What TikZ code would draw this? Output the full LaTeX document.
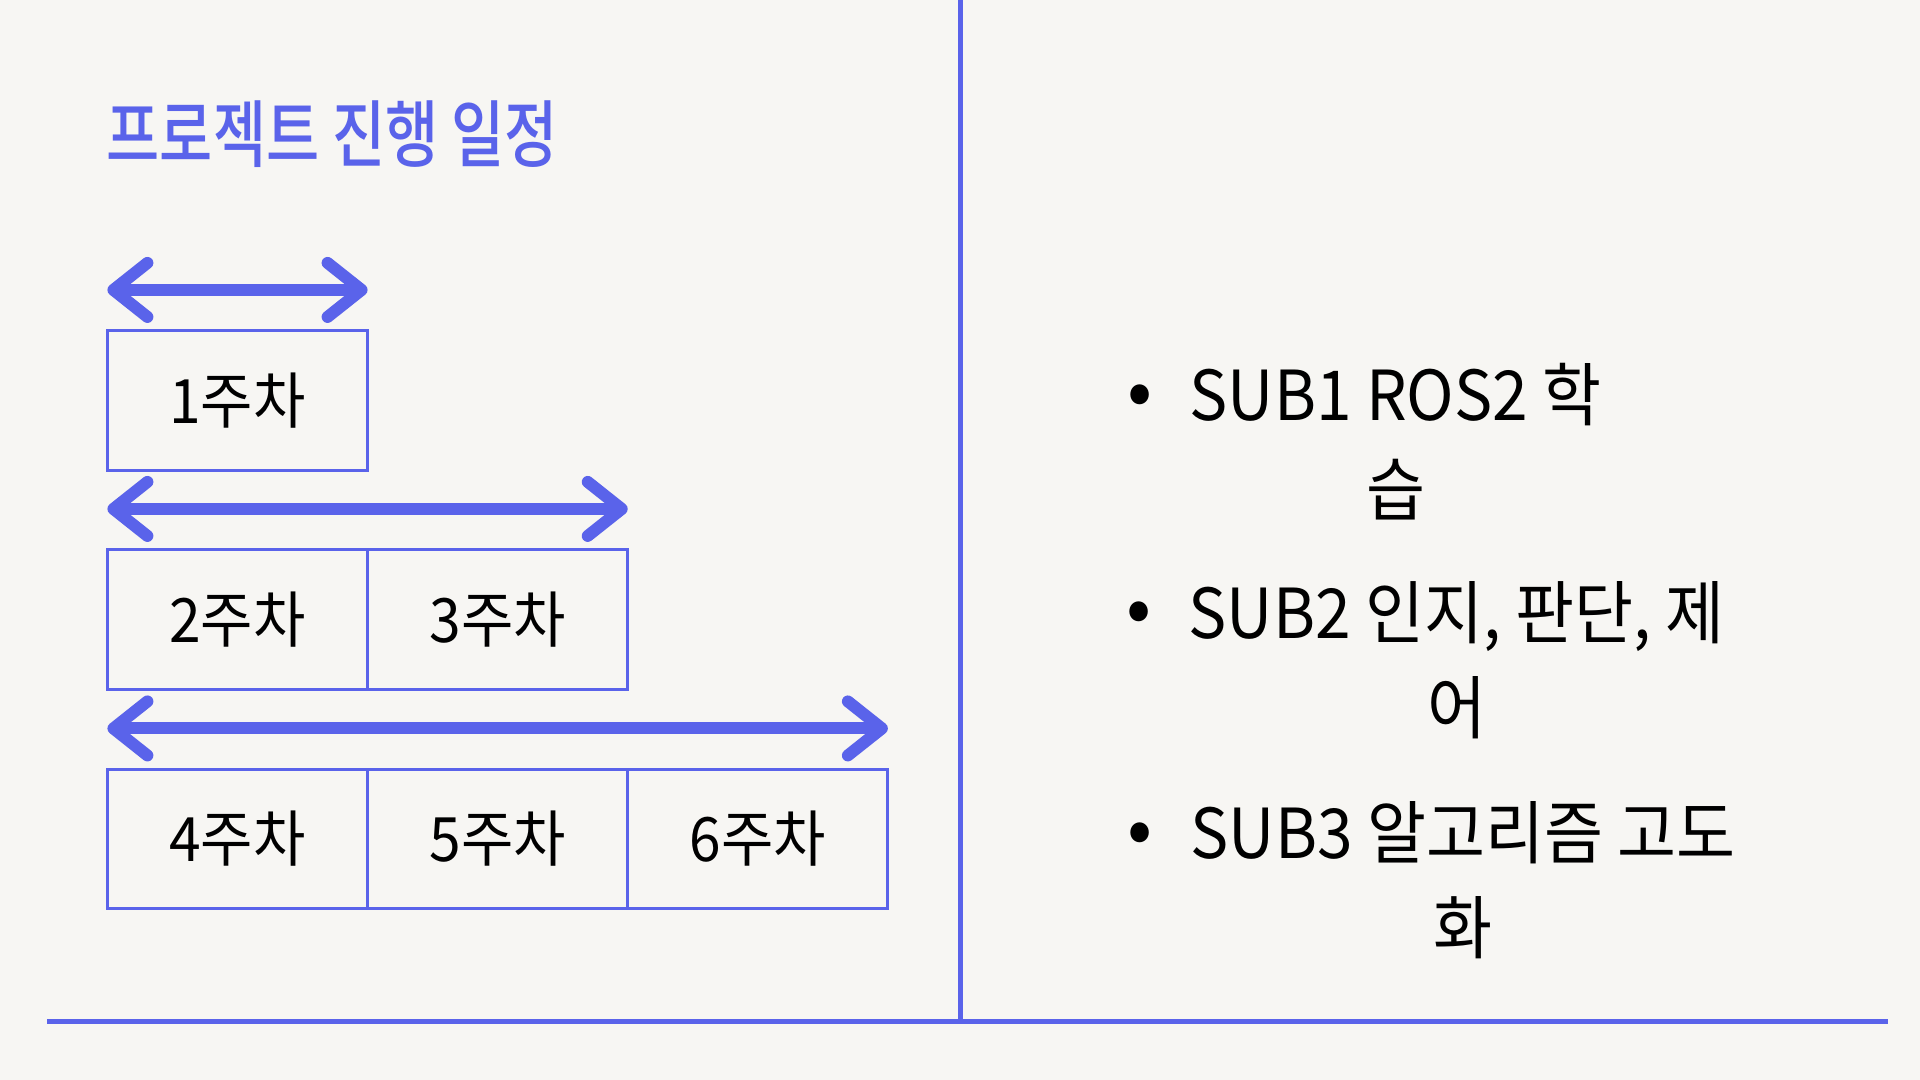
\documentclass[tikz,border=0pt]{standalone}
\usepackage{fontspec}
\usepackage{tikz}
\usepackage{xcolor}
\usetikzlibrary{arrows.meta,positioning}

\setmainfont{Noto Sans CJK KR}
\newfontfamily\titlefont[FakeStretch=0.79]{Noto Sans CJK KR Medium}
\newfontfamily\krfont[FakeStretch=0.93]{Noto Sans CJK KR}

\definecolor{accent}{RGB}{90,99,234}
\definecolor{paper}{RGB}{247,246,243}

\begin{document}
\begin{tikzpicture}[x=0.01cm,y=-0.01cm,
  week/.style={draw=accent,line width=0.85pt,outer sep=0pt,inner sep=0pt,
    minimum width=2.6cm,minimum height=1.39cm,
    font=\krfont\fontsize{17.4pt}{20pt}\selectfont},
  span/.style={accent,line width=3.4pt,<->},
  >={Straight Barb[length=3.4mm,width=5.4mm,round]},
  item/.style={anchor=north west,inner sep=0pt,align=center,
    font=\krfont\fontsize{19.6pt}{27pt}\selectfont},
  dot/.style={inner sep=0pt,font=\fontsize{21pt}{24pt}\selectfont}]

% Background
\useasboundingbox (0,0) rectangle (1920,1080);
\fill[paper] (0,0) rectangle (1920,1080);

% Title
\node[anchor=west,inner sep=0pt,text=accent,font=\titlefont\fontsize{20.8pt}{24pt}\selectfont] (title) at (106,134) {프로젝트 진행 일정};

% Weeks
\node[week] (w1) at (237.5,400.5) {1주차};
\node[week] (w2) at (237.5,619.5) {2주차};
\node[week,right=0pt of w2] (w3) {3주차};
\node[week] (w4) at (237.5,839) {4주차};
\node[week,right=0pt of w4] (w5) {5주차};
\node[week,right=0pt of w5] (w6) {6주차};

% Spans
\coordinate (s1l) at ([yshift=0.41cm]w1.north west);
\coordinate (s1r) at ([yshift=0.41cm]w1.north east);
\coordinate (s2l) at ([yshift=0.41cm]w2.north west);
\coordinate (s2r) at ([yshift=0.41cm]w3.north east);
\coordinate (s3l) at ([yshift=0.41cm]w4.north west);
\coordinate (s3r) at ([yshift=0.41cm]w6.north east);
\draw[span] (s1l) -- (s1r);
\draw[span] (s2l) -- (s2r);
\draw[span] (s3l) -- (s3r);

% Divider lines
\coordinate (divT) at (960,0);
\coordinate (divB) at (960,1019);
\coordinate (baseL) at (47,1021.5);
\coordinate (baseR) at (1888,1021.5);
\draw[accent,line width=1.42pt] (divT) -- (divB);
\draw[accent,line width=1.42pt] (baseL) -- (baseR);

% Sub goals
\node[dot] (d1) at (1140,401) {•};
\node[item] (sub1) at (1189,362.5) {SUB1 ROS2 학\\습};
\node[dot] (d2) at (1139,618) {•};
\node[item] (sub2) at (1188,580.5) {SUB2 인지, 판단, 제\\어};
\node[dot] (d3) at (1140,839) {•};
\node[item] (sub3) at (1190,800.5) {SUB3 알고리즘 고도\\화};

\end{tikzpicture}
\end{document}
